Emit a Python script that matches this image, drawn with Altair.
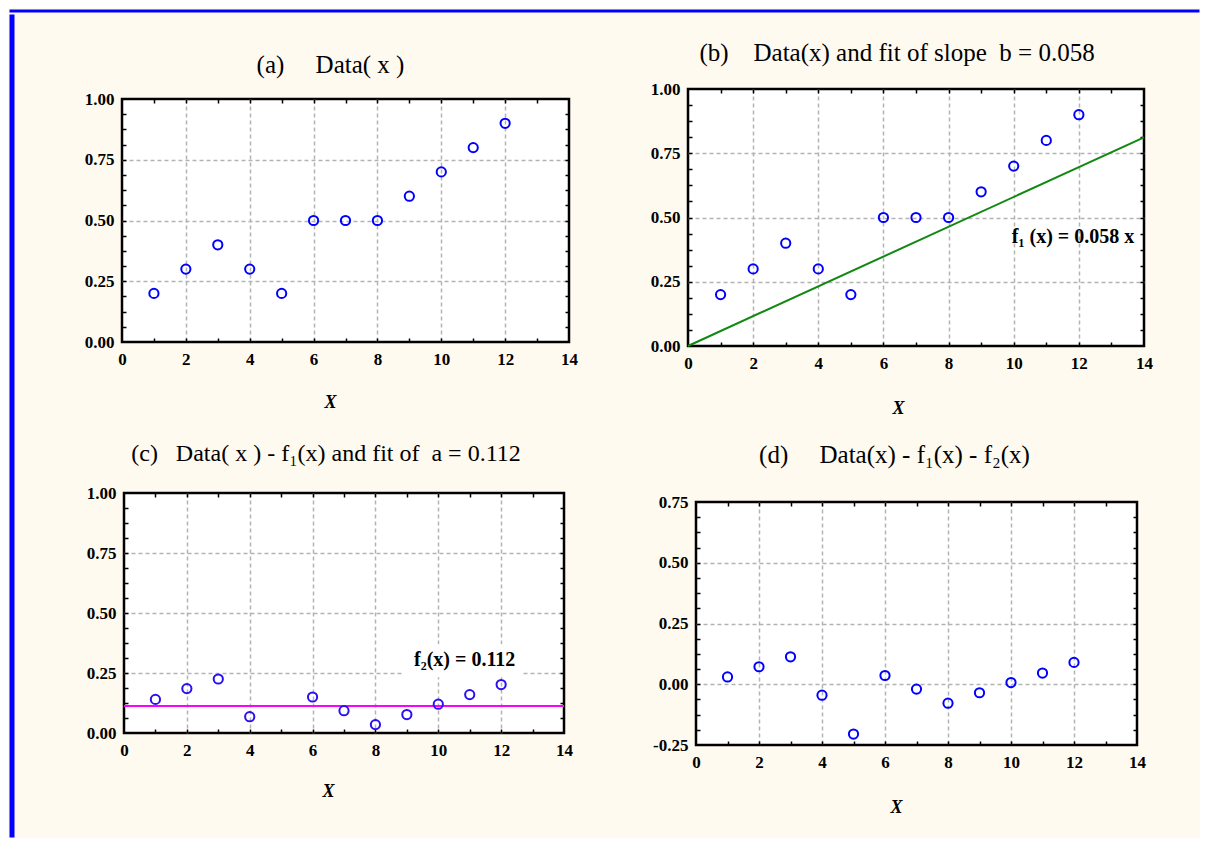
import altair as alt
import pandas as pd

# ---------------- data ----------------
x_vals = [1, 2, 3, 4, 5, 6, 7, 8, 9, 10, 11, 12]
data_a = [0.2, 0.3, 0.4, 0.3, 0.2, 0.5, 0.5, 0.5, 0.6, 0.7, 0.8, 0.9]
data_b = [0.2, 0.3, 0.4, 0.3, 0.2, 0.5, 0.5, 0.5, 0.6, 0.7, 0.8, 0.9]
x_c = [1, 2, 3, 4, 6, 7, 8, 9, 10, 11, 12]
data_c = [0.14, 0.185, 0.225, 0.068, 0.15, 0.093, 0.035, 0.077, 0.12, 0.16, 0.202]
data_d = [0.03, 0.072, 0.113, -0.045, -0.205, 0.036, -0.02, -0.078, -0.035, 0.007, 0.046, 0.09]

fit_b_x = [0, 14]
fit_b_y = [0.0, 0.812]
fit_c_x = [0, 14]
fit_c_y = [0.112, 0.112]

label_b = ["f\u2081 (x) = 0.058 x"]
label_b_x = [13.7]
label_b_y = [0.425]
label_c = ["f\u2082(x) = 0.112"]
label_c_x = [12.45]
label_c_y = [0.305]
box_c = {"x0": [8.85], "x1": [12.64], "y0": [0.232], "y1": [0.37]}

NB = "\u00a0"
title_a = "(a)" + NB * 5 + "Data(" + NB + "x" + NB + ")"
title_b = "(b)" + NB * 4 + "Data(x) and fit of slope" + NB * 2 + "b = 0.058"
title_c = "(c)" + NB * 3 + "Data(" + NB + "x" + NB + ") - f\u2081(x) and fit of" + NB * 2 + "a = 0.112"
title_d = "(d)" + NB * 5 + "Data(x) - f\u2081(x) - f\u2082(x)"

x_labels = [0, 2, 4, 6, 8, 10, 12, 14]
x_grid = [2, 4, 6, 8, 10, 12]
x_minor = [1, 2, 3, 4, 5, 6, 7, 8, 9, 10, 11, 12, 13]
y_labels_abc = [0.0, 0.25, 0.5, 0.75, 1.0]
y_grid_abc = [0.25, 0.5, 0.75]
y_minor_abc = [0.0625, 0.125, 0.1875, 0.25, 0.3125, 0.375, 0.4375, 0.5,
               0.5625, 0.625, 0.6875, 0.75, 0.8125, 0.875, 0.9375]
y_labels_d = [-0.25, 0.0, 0.25, 0.5, 0.75]
y_grid_d = [0.0, 0.25, 0.5]
y_minor_d = [-0.1875, -0.125, -0.0625, 0.0, 0.0625, 0.125, 0.1875, 0.25,
             0.3125, 0.375, 0.4375, 0.5, 0.5625, 0.625, 0.6875]

FONT = "Liberation Serif"
CREAM = "#FFFAF0"
BLUE = "#0000ff"


def panel(xs, ys, ydom, ylab, ygrid, yminor, w, h, title, tsize, tdx, toff,
          xtx, xty, color, extras=()):
    df = pd.DataFrame({"x": xs, "y": ys})
    xs_ = alt.Scale(domain=[0, 14], nice=False, zero=False)
    ys_ = alt.Scale(domain=ydom, nice=False, zero=False)

    inv = alt.Chart(df).mark_point(opacity=0, size=1)
    noax = dict(labels=False, domain=False, title=None)

    grid = inv.encode(
        x=alt.X("x:Q", scale=xs_, axis=alt.Axis(orient="bottom", values=x_grid, grid=True,
                                                 ticks=False, **noax)),
        y=alt.Y("y:Q", scale=ys_, axis=alt.Axis(orient="left", values=ygrid, grid=True,
                                                 ticks=False, **noax)),
    )
    tk = dict(grid=False, ticks=True, tickSize=4, tickWidth=1.5, tickColor="black",
              offset=-4, **noax)
    t1 = inv.encode(
        x=alt.X("x:Q", scale=xs_, axis=alt.Axis(orient="bottom", values=x_minor, **tk)),
        y=alt.Y("y:Q", scale=ys_, axis=alt.Axis(orient="left", values=yminor, **tk)),
    )
    t2 = inv.encode(
        x=alt.X("x:Q", scale=xs_, axis=alt.Axis(orient="top", values=x_minor, **tk)),
        y=alt.Y("y:Q", scale=ys_, axis=alt.Axis(orient="right", values=yminor, **tk)),
    )

    pts = alt.Chart(df).mark_point(shape="circle", filled=False, color=color,
                                   strokeWidth=2, size=85, opacity=1).encode(
        x=alt.X("x:Q", scale=xs_, axis=alt.Axis(
            orient="bottom", values=x_labels, format="d", grid=False, ticks=False,
            domain=False, labelFlush=False, labelOverlap=False, labelPadding=9,
            title="X", titleFont=FONT, titleFontSize=18, titleFontWeight="bold",
            titleFontStyle="italic", titleColor="black", titleX=xtx, titleY=xty,
            titleAlign="center", titleBaseline="alphabetic")),
        y=alt.Y("y:Q", scale=ys_, axis=alt.Axis(
            orient="left", values=ylab, grid=False, ticks=False, domain=False,
            labelFlush=False, labelOverlap=False, labelPadding=8,
            labelExpr="replace(format(datum.value, '.2f'), '\u2212', '-')",
            title=None)),
    )

    layers = [grid, t1, t2]
    for e in extras:
        layers.append(e(xs_, ys_))
    layers.append(pts)

    return alt.layer(*layers).resolve_axis(x="independent", y="independent").properties(
        width=w, height=h,
        view=alt.ViewBackground(fill="white", stroke="black", strokeWidth=2.5),
        title=alt.TitleParams(text=title, font=FONT, fontSize=tsize, fontWeight="normal",
                              color="black", anchor="middle", frame="group",
                              baseline="alphabetic", offset=toff, dx=tdx),
    )


def line_b(xs_, ys_):
    d = pd.DataFrame({"x": fit_b_x, "y": fit_b_y})
    return alt.Chart(d).mark_line(color="#118811", strokeWidth=2).encode(
        x=alt.X("x:Q", scale=xs_, axis=None), y=alt.Y("y:Q", scale=ys_, axis=None))


def text_b(xs_, ys_):
    d = pd.DataFrame({"x": label_b_x, "y": label_b_y, "t": label_b})
    return alt.Chart(d).mark_text(align="right", baseline="middle", font=FONT,
                                  fontSize=20, fontWeight="bold", color="black").encode(
        x=alt.X("x:Q", scale=xs_, axis=None), y=alt.Y("y:Q", scale=ys_, axis=None),
        text="t:N")


def line_c(xs_, ys_):
    d = pd.DataFrame({"x": fit_c_x, "y": fit_c_y})
    return alt.Chart(d).mark_line(color="#ff00ff", strokeWidth=2).encode(
        x=alt.X("x:Q", scale=xs_, axis=None), y=alt.Y("y:Q", scale=ys_, axis=None))


def box_cc(xs_, ys_):
    d = pd.DataFrame(box_c)
    return alt.Chart(d).mark_rect(color="white").encode(
        x=alt.X("x0:Q", scale=xs_, axis=None), x2="x1:Q",
        y=alt.Y("y0:Q", scale=ys_, axis=None), y2="y1:Q")


def text_c(xs_, ys_):
    d = pd.DataFrame({"x": label_c_x, "y": label_c_y, "t": label_c})
    return alt.Chart(d).mark_text(align="right", baseline="middle", font=FONT,
                                  fontSize=20, fontWeight="bold", color="black").encode(
        x=alt.X("x:Q", scale=xs_, axis=None), y=alt.Y("y:Q", scale=ys_, axis=None),
        text="t:N")


def blank(w, h, fill="transparent"):
    return alt.Chart(pd.DataFrame({"v": [0]})).mark_rect(opacity=0).encode(
        x=alt.value(0), x2=alt.value(1), y=alt.value(0), y2=alt.value(1)
    ).properties(width=w, height=h,
                 view=alt.ViewBackground(fill=fill, stroke="transparent"))


pa = panel(x_vals, data_a, [0, 1], y_labels_abc, y_grid_abc, y_minor_abc, 447, 243,
           title_a, 25, -15, -8, 208, 65, BLUE)
pb = panel(x_vals, data_b, [0, 1], y_labels_abc, y_grid_abc, y_minor_abc, 456, 257,
           title_b, 25, -19, -6, 210, 67, BLUE, extras=(line_b, text_b))
pc = panel(x_c, data_c, [0, 1], y_labels_abc, y_grid_abc, y_minor_abc, 440, 240,
           title_c, 24, -18, -1, 204, 63, "#2a10f0", extras=(line_c, box_cc, text_c))
pd_ = panel(x_vals, data_d, [-0.25, 0.75], y_labels_d, y_grid_d, y_minor_d, 441, 243,
            title_d, 25, -22, 5, 200, 67, BLUE)

SP = dict(spacing=0)
col_a = alt.vconcat(blank(10, 36), pa, **SP)
col_b = alt.vconcat(blank(10, 24), pb, **SP)
col_c = alt.vconcat(blank(10, 19), pc, **SP)
col_d = alt.vconcat(blank(10, 20), pd_, **SP)
row1 = alt.hconcat(blank(66, 2), col_a, blank(68, 2), col_b, **SP)
row2 = alt.hconcat(blank(68, 2), col_c, blank(75, 2), col_d, **SP)
body = alt.vconcat(row1, row2, **SP)

chart = alt.vconcat(
    blank(1190, 3, BLUE),
    alt.hconcat(blank(5, 823, BLUE), body, **SP),
    **SP,
).properties(padding=0, background=CREAM).configure_view(stroke="transparent").configure_axis(
    labelFont=FONT, labelFontSize=17, labelFontWeight="bold", labelColor="black",
    gridColor="#b3b3b3", gridDash=[4, 3], gridWidth=1.5,
)

chart.save("out.html", embed_options={"renderer": "svg", "actions": False})
